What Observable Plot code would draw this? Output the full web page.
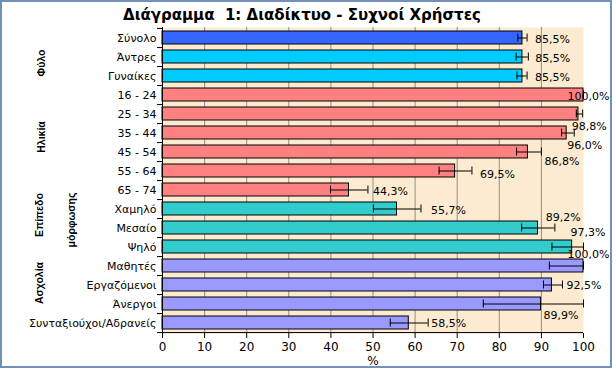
<!DOCTYPE html>
<html>
<head>
<meta charset="utf-8">
<script src="https://cdn.jsdelivr.net/npm/d3@7"></script>
<script src="https://cdn.jsdelivr.net/npm/@observablehq/plot@0.6"></script>
<style>
  html, body { margin: 0; padding: 0; background: #fff; }
  #wrap { position: relative; width: 616px; height: 370px; overflow: hidden; }
  #border { position: absolute; left: 0; top: 0; width: 608px; height: 364px; border: 2px solid #7391b8; pointer-events: none; }
  #title { position: absolute; left: 0; top: 6px; width: 604px; text-align: center;
           font: bold 15px "DejaVu Sans", sans-serif; color: #000; }
</style>
</head>
<body>
<div id="wrap">
  <div id="chart"></div>
  <div id="title">Διάγραμμα&nbsp; 1: Διαδίκτυο - Συχνοί Χρήστες</div>
  <div id="border"></div>
</div>
<script>
const categories = ["Σύνολο","Άντρες","Γυναίκες","16 - 24","25 - 34","35 - 44","45 - 54","55 - 64","65 - 74","Χαμηλό","Μεσαίο","Ψηλό","Μαθητές","Εργαζόμενοι","Άνεργοι","Συνταξιούχοι/Αδρανείς"];
const values  = [85.5,85.5,85.5,100.0,98.8,96.0,86.8,69.5,44.3,55.7,89.2,97.3,100.0,92.5,89.9,58.5];
const errLow  = [84.4,84.0,84.2,100.0,98.3,94.8,84.1,65.7,39.9,50.1,85.3,92.5,91.9,90.5,76.2,54.1];
const errHigh = [86.6,86.9,86.6,100.0,99.8,97.8,90.0,73.5,48.8,61.4,93.2,100.0,100.0,95.0,100.0,63.1];
const groups  = ["total","gender","gender","age","age","age","age","age","age","edu","edu","edu","job","job","job","job"];
const xTicks  = [0,10,20,30,40,50,60,70,80,90,100];
const groupNames = ["Φύλο","Ηλικία","Επίπεδο","μόρφωσης","Ασχολία"];
const groupAnchors = ["Άντρες","35 - 44","Μεσαίο","Μεσαίο","Εργαζόμενοι"];

// label nudges (pixels), mimicking the reference placement
const labelDx = [8,7,8,-16,-11,-7,3,8,5,10,-9,-13,-16,4,-40,3];
const labelDy = [1.5,1.5,1,1,12,12,9.5,3,1,1.5,-11,-15,-12,0.5,11.5,0.5];
const groupDx = [-121,-121,-123,-91,-123];
const groupDy = [6,4,-13,-8,-2];

const data = categories.map((c, i) => ({cat: c, value: values[i], lo: errLow[i], hi: errHigh[i], group: groups[i], i}));
const fmt = v => v.toFixed(1).replace(".", ",") + "%";

const W = 616, H = 370, mt = 27, mb = 37;
const step = (H - mt - mb) / categories.length;

const plot = Plot.plot({
  width: W, height: H,
  marginLeft: 162, marginRight: 33, marginTop: mt, marginBottom: mb,
  style: {fontFamily: "DejaVu Sans, sans-serif", fontSize: "11px", background: "transparent", color: "#000"},
  x: {domain: [0, 100], axis: null},
  y: {domain: categories, paddingInner: 0.32, paddingOuter: 0.16, axis: null},
  color: {domain: ["total","gender","age","edu","job"], range: ["#3366ff","#00ccff","#ff8080","#33cccc","#9999ff"]},
  marks: [
    Plot.frame({fill: "#fcebd0", stroke: "none"}),
    Plot.gridX(xTicks.filter(t => t > 0 && t < 100), {stroke: "#8f8f8f", strokeOpacity: 1}),
    Plot.barX(data, {x: "value", y: "cat", fill: "group", stroke: "#000", strokeWidth: 1}),
    Plot.ruleY(data, {y: "cat", x1: "lo", x2: "hi", stroke: "#000", strokeWidth: 1}),
    Plot.tickX(data, {x: "lo", y: "cat", stroke: "#000", insetTop: 2.5, insetBottom: 2.5}),
    Plot.tickX(data, {x: "hi", y: "cat", stroke: "#000", insetTop: 2.5, insetBottom: 2.5}),
    ...data.map(d => Plot.text([d], {x: "hi", y: "cat", text: e => fmt(e.value), textAnchor: "start",
      dx: labelDx[d.i], dy: labelDy[d.i], fontSize: 11, fill: "#000"})),
    // axes lines
    Plot.ruleX([0], {stroke: "#000"}),
    Plot.ruleY([categories[categories.length - 1]], {x1: 0, x2: 100, dy: step / 2, stroke: "#000"}),
    Plot.axisX({ticks: xTicks, tickSize: 5, tickPadding: 4, fontSize: 12, label: null, tickFormat: d => String(d)}),
    Plot.axisY({tickSize: 0, tickPadding: 6, fontSize: 11, label: null}),
    Plot.axisY({tickSize: 5, text: null, dy: step / 2, label: null}),
    Plot.axisY({ticks: [categories[0]], tickSize: 5, text: null, dy: -step / 2, label: null}),
    Plot.text(["%"], {frameAnchor: "bottom", lineAnchor: "middle", dy: 28, fontSize: 12}),
    ...groupNames.map((g, k) => Plot.text([g], {frameAnchor: "left", y: () => groupAnchors[k], text: d => d,
      rotate: -90, textAnchor: "middle", dx: groupDx[k], dy: groupDy[k],
      fontWeight: "bold", fontSize: 10.5, fontFamily: "Liberation Sans, sans-serif"}))
  ]
});
document.getElementById("chart").appendChild(plot);
</script>
</body>
</html>
